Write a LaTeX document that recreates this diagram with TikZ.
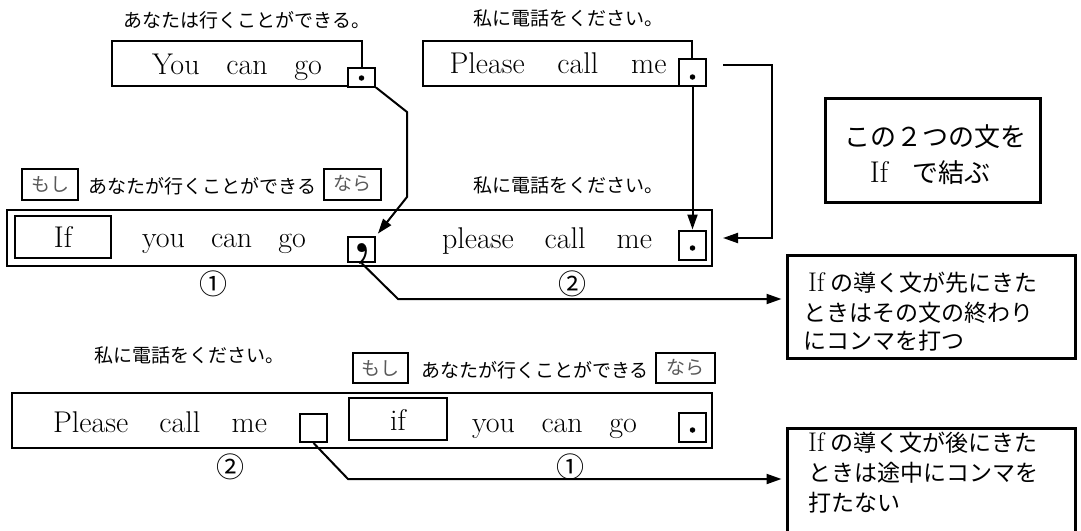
\documentclass[tikz,border=0pt]{standalone}
\usepackage{fontspec}
\newfontfamily\jp{Noto Sans CJK JP}
\usetikzlibrary{arrows.meta}
\newcommand\fs[1]{\fontsize{#1}{#1}\selectfont}
\newcommand\spread[2]{\makebox[#1pt][s]{#2}}
\begin{document}
\begin{tikzpicture}[x=1pt,y=-1pt,
  frame/.style={draw,line width=2pt,inner sep=0pt,fill=white},
  bigframe/.style={draw,line width=3pt,inner sep=0pt},
  conn/.style={line width=2pt},
  arr/.style={conn,-{Triangle[length=15pt,width=10pt]}},
  jlab/.style={font=\jp\fs{19},inner sep=0pt},
  mincho/.style={font=\jp\fs{19},text=black!65,inner sep=0pt},
  en/.style={font=\fs{30},anchor=base,inner sep=0pt},
  circ/.style={font=\jp\fs{28},inner sep=0pt},
  note/.style={font=\jp\fs{23},anchor=west,inner sep=0pt},
  dotmark/.style={fill,circle,inner sep=0pt,minimum size=5.5pt}
]
\useasboundingbox (0,0) rectangle (1081,530);

% ---------- top row ----------
\node[jlab] (l1) at (247,20) {あなたは行くことができる。};
\node[frame,minimum width=250pt,minimum height=45pt] (box1) at (237,63.5) {};
\node[en] (t1) at (237,74) {\spread{170}{You can go}};
\node[frame,minimum width=27pt,minimum height=19pt] (sb1) at (361.5,77) {};
\node[dotmark] (d1) at (361.5,78) {};

\node[jlab] (l2) at (568,18) {私に電話をください。};
\node[frame,minimum width=269pt,minimum height=45pt] (box2) at (557.5,63.5) {};
\node[en] (t2) at (558,73) {\spread{217}{Please call me}};
\node[frame,minimum width=27pt,minimum height=27pt] (sb2) at (692.5,72.5) {};
\node[dotmark] (d2) at (692.5,77) {};

\node[bigframe,minimum width=215pt,minimum height=104pt] (rule) at (932.5,150) {};
\node[font=\fs{26},inner sep=0pt] (rl1) at (935,137) {\jp この２つの文を};
\node[font=\fs{30},inner sep=0pt] (rl2) at (930,173) {If\hspace{0.8em}{\jp\fs{26}で結ぶ}};

% ---------- middle row ----------
\node[frame,minimum width=56pt,minimum height=31pt] (mosi1) at (50,184) {};
\node[mincho] at (mosi1.center) {もし};
\node[jlab] (l3) at (202.5,186) {あなたが行くことができる};
\node[frame,minimum width=57pt,minimum height=31pt] (nara1) at (352.5,184) {};
\node[mincho] at (nara1.center) {なら};
\node[jlab] (l4) at (568,185) {私に電話をください。};

\node[frame,minimum width=705pt,minimum height=56pt] (big2) at (359.5,238) {};
\node[frame,minimum width=96pt,minimum height=42pt] (if1) at (63,237) {};
\node[en] (tif1) at (63,247) {If};
\node[en] (t3) at (224,247) {\spread{164}{you can go}};
\node[frame,minimum width=27pt,minimum height=25pt] (cbox) at (361.5,249.5) {};
\node[font=\bfseries\fs{62},anchor=base,inner sep=0pt] (cm) at (362,252) {,};
\node[en] (t4) at (547,248) {\spread{210}{please call me}};
\node[frame,minimum width=27pt,minimum height=29pt] (sb3) at (692.5,245) {};
\node[dotmark] (d3) at (692.5,248) {};
\node[circ] (n1a) at (213,284) {①};
\node[circ] (n2a) at (572,284) {②};

\node[bigframe,minimum width=288pt,minimum height=103pt] (note1) at (931,306.5) {};
\node[note] (n1l1) at (808,283) {{\rmfamily\fs{27}If}\hspace{6pt}の導く文が先にきた};
\node[note] (n1l2) at (803,313) {ときはその文の終わり};
\node[note] (n1l3) at (803,341) {にコンマを打つ};

% ---------- bottom row ----------
\node[jlab] (l5) at (189,355) {私に電話をください。};
\node[frame,minimum width=55pt,minimum height=30pt] (mosi2) at (380.5,368) {};
\node[mincho] at (mosi2.center) {もし};
\node[jlab] (l6) at (535,370) {あなたが行くことができる};
\node[frame,minimum width=59pt,minimum height=30pt] (nara2) at (685.5,368) {};
\node[mincho] at (nara2.center) {なら};

\node[frame,minimum width=700pt,minimum height=55pt] (big3) at (362,420.5) {};
\node[en] (t5) at (160,432) {\spread{214}{Please call me}};
\node[frame,minimum width=27pt,minimum height=28pt] (ebox) at (313.5,428) {};
\node[frame,minimum width=98pt,minimum height=42pt] (if2) at (398,419) {};
\node[en] (tif2) at (398,430) {if};
\node[en] (t6) at (554.5,432) {\spread{165}{you can go}};
\node[frame,minimum width=27pt,minimum height=29pt] (sb4) at (692.5,427.5) {};
\node[dotmark] (d4) at (692.5,430) {};
\node[circ] (n2b) at (230,467) {②};
\node[circ] (n1b) at (570,467) {①};

\node[bigframe,minimum width=288pt,minimum height=106pt] (note2) at (931,481) {};
\node[note] (n2l1) at (808,443) {{\rmfamily\fs{27}If}\hspace{6pt}の導く文が後にきた};
\node[note] (n2l2) at (808,473) {ときは途中にコンマを};
\node[note] (n2l3) at (808,503) {打たない};

% ---------- connectors ----------
\coordinate (k1) at (407,112);
\coordinate (k2) at (407,197);
\draw[arr,shorten >=3pt] (sb1.south east) -- (k1) -- (k2) -- (cbox.north east);
\draw[arr] (sb2.south) -- (sb3.north);
\coordinate (r1) at (723,65);
\coordinate (r2) at (772,65);
\draw[arr,shorten >=10pt] (r1) -- (r2) |- (big2.east);
\coordinate (m1) at (398,299);
\draw[arr,shorten >=4pt] (cbox.south) -- (m1) -- (m1 -| note1.west);
\coordinate (b1) at (348,479);
\draw[arr,shorten >=4pt] (ebox.south) -- (b1) -- (b1 -| note2.west);
\end{tikzpicture}
\end{document}
